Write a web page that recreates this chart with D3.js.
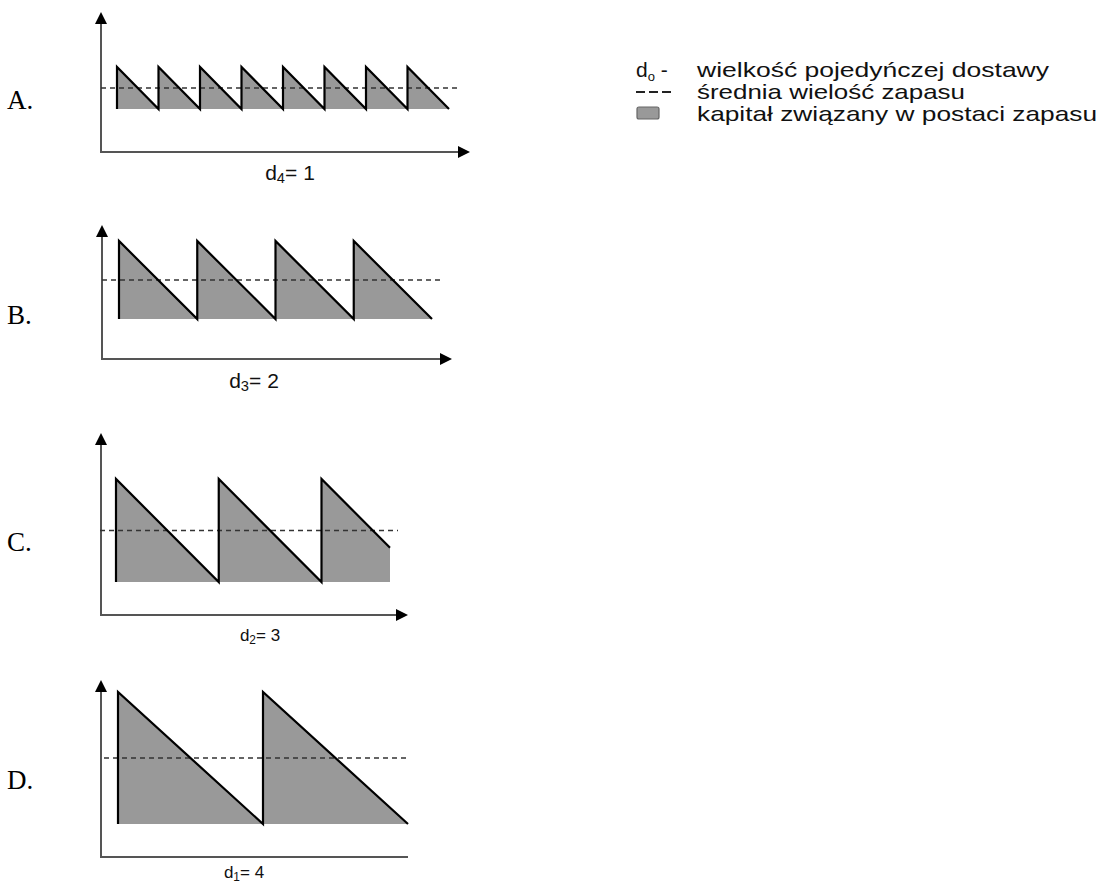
<!DOCTYPE html>
<html><head><meta charset="utf-8">
<script src="https://cdn.jsdelivr.net/npm/d3@7"></script>
<style>body{margin:0;background:#fff}svg{display:block}</style>
</head><body>
<script>
// ---- data ----
const panelLetters = ["A.", "B.", "C.", "D."];
const deliverySize = [1, 2, 3, 4];           // d (size of a single delivery)
const labelIndex = ["4", "3", "2", "1"];      // subscript in d_i label
const labelValue = ["1", "2", "3", "4"];
const deliveriesA = [0, 1, 2, 3, 4, 5, 6, 7];
const deliveriesB = [0, 2, 4, 6];
const deliveriesC = [0, 3, 6];
const deliveriesD = [0, 4];
const horizon = 8;
const averageStock = [0.5, 1, 1.5, 2];
const legendTexts = ["wielkość pojedyńczej dostawy", "średnia wielość zapasu", "kapitał związany w postaci zapasu"];

// ---- layout ----
const W = 1107, H = 886;
const layouts = [
  {axX:101, axY:152, axTop:12, axRight:470, arrowX:true, x0:117, x1:449, yB:109, yT:67, dash:[101,460], lab:[290,180,21], let:[7,109]},
  {axX:102, axY:359, axTop:225, axRight:452, arrowX:true, x0:119, x1:432, yB:319, yT:241, dash:[102,442], lab:[254,388,21], let:[7,324]},
  {axX:101, axY:615, axTop:433, axRight:408, arrowX:true, x0:116, x1:390, yB:582, yT:479, dash:[100,398], lab:[260,641,17], let:[7,551]},
  {axX:101, axY:857, axTop:680, axRight:408, arrowX:false, x0:118, x1:408, yB:824, yT:692, dash:[104,408], lab:[244,878,17], let:[7,789]}
];
const deliveries = [deliveriesA, deliveriesB, deliveriesC, deliveriesD];

const svg = d3.select("body").append("svg").attr("width", W).attr("height", H);
svg.append("rect").attr("width", W).attr("height", H).attr("fill", "#fff");

function arrow(g, x, y, dir) {
  const s = 6, L = 12;
  let pts;
  if (dir === "up") pts = [[x, y], [x - s, y + L], [x + s, y + L]];
  else pts = [[x, y], [x - L, y - s], [x - L, y + s]];
  g.append("path").attr("d", d3.line()(pts) + "Z").attr("fill", "#000");
}

layouts.forEach((L, i) => {
  const d = deliverySize[i];
  const del = deliveries[i];
  const x = d3.scaleLinear().domain([0, horizon]).range([L.x0, L.x1]);
  const y = d3.scaleLinear().domain([0, d]).range([L.yB, L.yT]);
  const g = svg.append("g");

  const pts = [];
  del.forEach((t, k) => {
    const next = k + 1 < del.length ? del[k + 1] : horizon;
    pts.push([t, 0]);
    pts.push([t, d]);
    pts.push([next, d - (next - t)]);
  });
  const fillPts = pts.filter((p, k) => k % 3 !== 0);
  g.append("path")
    .attr("d", d3.area().x(p => x(p[0])).y0(y(0)).y1(p => y(p[1]))(fillPts))
    .attr("fill", "#999999");

  g.append("line").attr("x1", L.axX).attr("x2", L.axX).attr("y1", L.axY).attr("y2", L.axTop + 8)
    .attr("stroke", "#555").attr("stroke-width", 2);
  g.append("line").attr("x1", L.axX - 1).attr("x2", L.arrowX ? L.axRight - 8 : L.axRight).attr("y1", L.axY).attr("y2", L.axY)
    .attr("stroke", "#555").attr("stroke-width", 2);
  arrow(g, L.axX, L.axTop, "up");
  if (L.arrowX) arrow(g, L.axRight, L.axY, "right");

  g.append("line").attr("x1", L.dash[0]).attr("x2", L.dash[1])
    .attr("y1", y(averageStock[i])).attr("y2", y(averageStock[i]))
    .attr("stroke", "#333").attr("stroke-width", 1.6).attr("stroke-dasharray", "5,4");

  g.append("path")
    .attr("d", d3.line().x(p => x(p[0])).y(p => y(p[1]))(pts))
    .attr("fill", "none").attr("stroke", "#000").attr("stroke-width", 2.2).attr("stroke-linejoin", "miter");

  const t = g.append("text").attr("x", L.lab[0]).attr("y", L.lab[1]).attr("text-anchor", "middle")
    .attr("font-family", "Liberation Sans, Arial, sans-serif").attr("font-size", L.lab[2]).attr("fill", "#111");
  t.append("tspan").text("d");
  t.append("tspan").attr("font-size", L.lab[2] * 0.7).attr("dy", 3).text(labelIndex[i]);
  t.append("tspan").attr("dy", -3).text("= " + labelValue[i]);

  svg.append("text").attr("x", L.let[0]).attr("y", L.let[1])
    .attr("font-family", "Liberation Serif, Times New Roman, serif").attr("font-size", 27).attr("fill", "#000")
    .text(panelLetters[i]);
});

// legend
const lg = svg.append("g").attr("font-family", "Liberation Sans, Arial, sans-serif").attr("fill", "#111");
const rowsY = [77, 99, 121];
const t0 = lg.append("text").attr("x", 636).attr("y", rowsY[0]).attr("font-size", 21);
t0.append("tspan").text("d");
t0.append("tspan").attr("font-size", 13).attr("dy", 4).text("o");
t0.append("tspan").attr("dy", -4).text(" -");
lg.append("line").attr("x1", 636).attr("x2", 672).attr("y1", rowsY[1] - 7).attr("y2", rowsY[1] - 7)
  .attr("stroke", "#222").attr("stroke-width", 1.8).attr("stroke-dasharray", "9,4");
lg.append("rect").attr("x", 637).attr("y", rowsY[2] - 14).attr("width", 22).attr("height", 12).attr("rx", 2)
  .attr("fill", "#999").attr("stroke", "#666").attr("stroke-width", 1.2);
legendTexts.forEach((s, k) => {
  lg.append("text").attr("x", 697).attr("y", rowsY[k]).attr("font-size", 21)
    .attr("textLength", [352, 268, 400][k]).attr("lengthAdjust", "spacingAndGlyphs").text(s);
});
</script>
</body></html>
